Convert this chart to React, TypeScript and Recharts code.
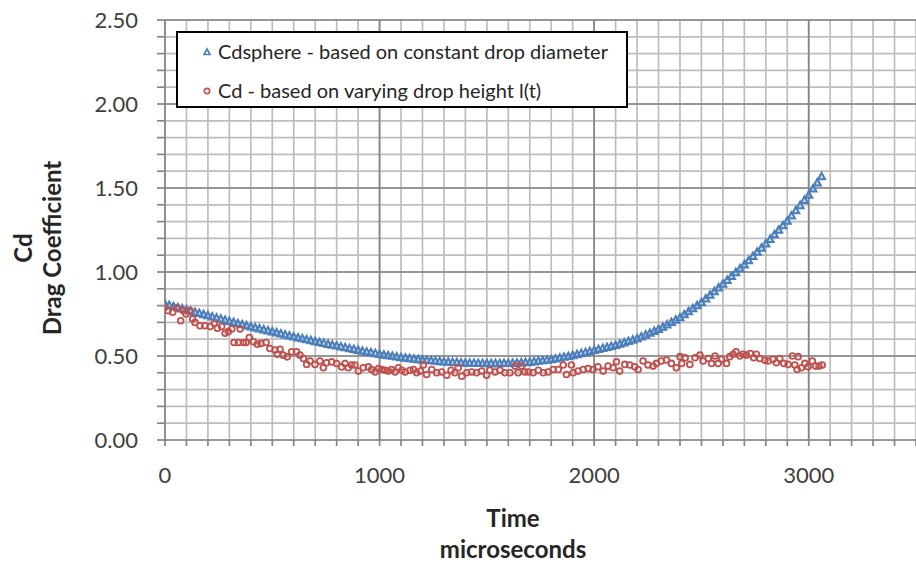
import React from 'react';
import { ScatterChart, Scatter, XAxis, YAxis, CartesianGrid, ReferenceLine, Legend } from 'recharts';

// Cdsphere – sampled every 20 µs starting at t = 0
const sphereStartTime = 0;
const sphereStep = 20;
const sphereCd = [
  0.810, 0.803, 0.796, 0.790, 0.783,
  0.776, 0.769, 0.762, 0.756, 0.749,
  0.742, 0.735, 0.728, 0.722, 0.715,
  0.708, 0.702, 0.695, 0.689, 0.682,
  0.676, 0.670, 0.664, 0.658, 0.652,
  0.646, 0.640, 0.634, 0.628, 0.622,
  0.616, 0.610, 0.605, 0.599, 0.594,
  0.588, 0.583, 0.578, 0.572, 0.567,
  0.562, 0.557, 0.552, 0.546, 0.541,
  0.536, 0.531, 0.526, 0.522, 0.517,
  0.512, 0.508, 0.504, 0.501, 0.497,
  0.493, 0.490, 0.487, 0.484, 0.481,
  0.478, 0.476, 0.474, 0.471, 0.469,
  0.467, 0.466, 0.464, 0.463, 0.461,
  0.460, 0.459, 0.459, 0.458, 0.458,
  0.457, 0.457, 0.457, 0.457, 0.458,
  0.458, 0.459, 0.460, 0.462, 0.463,
  0.465, 0.468, 0.471, 0.474, 0.477,
  0.480, 0.485, 0.490, 0.495, 0.500,
  0.505, 0.511, 0.517, 0.523, 0.529,
  0.535, 0.541, 0.547, 0.553, 0.559,
  0.565, 0.573, 0.581, 0.589, 0.597,
  0.605, 0.616, 0.627, 0.638, 0.649,
  0.660, 0.674, 0.688, 0.702, 0.716,
  0.730, 0.748, 0.766, 0.784, 0.802,
  0.820, 0.842, 0.864, 0.886, 0.908,
  0.930, 0.953, 0.976, 0.999, 1.022,
  1.045, 1.070, 1.095, 1.120, 1.145,
  1.170, 1.197, 1.224, 1.251, 1.278,
  1.305, 1.336, 1.367, 1.398, 1.429,
  1.460, 1.497, 1.533, 1.570,
];

// Cd based on varying drop height l(t)
const dropTime = [
  0, 14, 36, 54, 73, 85, 98, 116, 129, 140, 163, 186, 210, 230, 244, 264, 280, 295, 311, 322,
  342, 350, 365, 378, 393, 412, 430, 447, 471, 489, 513, 523, 536, 551, 570, 590, 613, 629, 645, 660,
  676, 699, 722, 738, 753, 777, 800, 823, 839, 854, 870, 885, 901, 924, 948, 963, 979, 995, 1010, 1025,
  1041, 1056, 1072, 1088, 1104, 1119, 1142, 1158, 1173, 1190, 1204, 1219, 1243, 1266, 1289, 1313, 1333, 1351, 1367, 1383,
  1406, 1429, 1452, 1476, 1499, 1514, 1538, 1561, 1584, 1608, 1631, 1646, 1662, 1677, 1693, 1716, 1740, 1763, 1786, 1809,
  1833, 1856, 1871, 1894, 1902, 1925, 1949, 1972, 1995, 2018, 2042, 2065, 2088, 2104, 2119, 2143, 2166, 2189, 2205, 2228,
  2251, 2275, 2290, 2313, 2337, 2360, 2383, 2400, 2408, 2424, 2446, 2470, 2493, 2508, 2532, 2547, 2563, 2578, 2594, 2617,
  2632, 2648, 2661, 2679, 2694, 2710, 2728, 2744, 2756, 2772, 2796, 2811, 2834, 2849, 2865, 2884, 2904, 2924, 2935, 2946,
  2951, 2966, 2982, 2997, 3017, 3032, 3048, 3063,
];
const dropCd = [
  0.79, 0.77, 0.76, 0.785, 0.71, 0.77, 0.75, 0.77, 0.72, 0.70, 0.68, 0.68, 0.675, 0.695, 0.665, 0.675, 0.635, 0.645, 0.66, 0.58,
  0.58, 0.66, 0.58, 0.58, 0.61, 0.585, 0.57, 0.575, 0.58, 0.545, 0.535, 0.51, 0.54, 0.505, 0.495, 0.525, 0.525, 0.505, 0.485, 0.45,
  0.47, 0.45, 0.47, 0.43, 0.46, 0.465, 0.455, 0.435, 0.455, 0.43, 0.446, 0.446, 0.41, 0.43, 0.435, 0.42, 0.405, 0.425, 0.42, 0.415,
  0.41, 0.42, 0.405, 0.43, 0.415, 0.405, 0.415, 0.42, 0.40, 0.41, 0.446, 0.39, 0.42, 0.40, 0.405, 0.385, 0.415, 0.40, 0.43, 0.38,
  0.40, 0.405, 0.40, 0.41, 0.385, 0.415, 0.405, 0.415, 0.40, 0.40, 0.44, 0.40, 0.44, 0.405, 0.405, 0.40, 0.415, 0.40, 0.405, 0.42,
  0.42, 0.446, 0.39, 0.446, 0.40, 0.41, 0.42, 0.425, 0.42, 0.436, 0.41, 0.44, 0.43, 0.466, 0.41, 0.45, 0.446, 0.436, 0.42, 0.47,
  0.446, 0.44, 0.456, 0.47, 0.476, 0.456, 0.43, 0.496, 0.456, 0.49, 0.45, 0.49, 0.505, 0.47, 0.485, 0.456, 0.50, 0.456, 0.48, 0.456,
  0.496, 0.51, 0.525, 0.50, 0.51, 0.505, 0.515, 0.49, 0.51, 0.485, 0.475, 0.47, 0.48, 0.46, 0.485, 0.456, 0.45, 0.50, 0.446, 0.42,
  0.496, 0.43, 0.456, 0.436, 0.47, 0.44, 0.44, 0.446,
];

const xTicks = [
  0, 100, 200, 300, 400, 500, 600, 700, 800, 900, 1000, 1100, 1200, 1300, 1400, 1500, 1600, 1700,
  1800, 1900, 2000, 2100, 2200, 2300, 2400, 2500, 2600, 2700, 2800, 2900, 3000, 3100, 3200, 3300, 3400, 3500,
];
const xMajor = [1000, 2000, 3000];
const yTicks = [
  0, 0.1, 0.2, 0.3, 0.4, 0.5, 0.6, 0.7, 0.8, 0.9, 1.0, 1.1, 1.2, 1.3, 1.4, 1.5, 1.6, 1.7, 1.8, 1.9,
  2.0, 2.1, 2.2, 2.3, 2.4, 2.5,
];
const yMajor = [0.5, 1.0, 1.5, 2.0, 2.5];

const seriesNames = ['Cdsphere - based on constant drop diameter', 'Cd - based on varying drop height l(t)'];
const xTitle = ['Time', 'microseconds'];
const yTitle = ['Cd', 'Drag Coefficient'];

const BLUE = '#4a7ebb';
const RED = '#c0504d';
const FONT = 'Lato, "Open Sans", sans-serif';

const sphereData = sphereCd.map((v, i) => ({ x: sphereStartTime + i * sphereStep, y: v }));
const dropData = dropTime.map((t, i) => ({ x: t, y: dropCd[i] }));

const Triangle = (props: any) => {
  const { cx, cy } = props;
  if (cx == null || cy == null) return null;
  const h = 6;
  const w = 7;
  return (
    <polygon
      points={`${cx},${cy - h / 2 - 0.5} ${cx - w / 2},${cy + h / 2} ${cx + w / 2},${cy + h / 2}`}
      fill="#9db8dc"
      fillOpacity={0.5}
      stroke={BLUE}
      strokeWidth={2}
    />
  );
};

const Ring = (props: any) => {
  const { cx, cy } = props;
  if (cx == null || cy == null) return null;
  return <circle cx={cx} cy={cy} r={2.9} fill="none" stroke={RED} strokeWidth={1.8} />;
};

const YTitle = () => (
  <g>
    <text transform="translate(32,248) rotate(-90)" textAnchor="middle" fontFamily={FONT} fontWeight="bold" fontSize={24} fill="#262626">
      {yTitle[0]}
    </text>
    <text transform="translate(61,248) rotate(-90)" textAnchor="middle" fontFamily={FONT} fontWeight="bold" fontSize={24} fill="#262626">
      {yTitle[1]}
    </text>
  </g>
);

const XTitle = () => (
  <g>
    <text x={513} y={527} textAnchor="middle" fontFamily={FONT} fontWeight="bold" fontSize={24} fill="#262626">
      {xTitle[0]}
    </text>
    <text x={513} y={558} textAnchor="middle" fontFamily={FONT} fontWeight="bold" fontSize={24} fill="#262626">
      {xTitle[1]}
    </text>
  </g>
);

const LegendBox = () => (
  <div
    style={{
      boxSizing: 'border-box',
      width: 452,
      height: 77,
      border: '2px solid #000',
      background: '#fff',
      position: 'relative',
      fontFamily: FONT,
      fontSize: 20,
      color: '#262626',
    }}
  >
    {seriesNames.map((name, i) => (
      <div
        key={name}
        style={{ position: 'absolute', left: 0, top: i === 0 ? 5 : 44, height: 26, width: 448, whiteSpace: 'nowrap' }}
      >
        <svg width={12} height={12} style={{ position: 'absolute', left: 23, top: 8 }}>
          {i === 0 ? (
            <polygon points="6,3 3,8.5 9,8.5" fill="none" stroke={BLUE} strokeWidth={1.6} />
          ) : (
            <circle cx={6} cy={6} r={2.7} fill="none" stroke={RED} strokeWidth={1.7} />
          )}
        </svg>
        <span style={{ position: 'absolute', left: 40, top: 0, lineHeight: '26px' }}>{name}</span>
      </div>
    ))}
  </div>
);

const fmtX = (v: number) => (v % 1000 === 0 ? String(v) : '');
const fmtY = (v: number) => (Math.round(v * 10) % 5 === 0 ? v.toFixed(2) : '');

export default function App() {
  return (
    <div style={{ position: 'absolute', left: 0, top: 0, width: 916, height: 562, background: '#fff' }}>
      <ScatterChart width={916} height={562} margin={{ top: 20, right: 0, bottom: 0, left: 0 }}>
        <CartesianGrid stroke="#bdbdbd" strokeWidth={1.7} />
        {xMajor.map((v) => (
          <ReferenceLine key={`xm${v}`} x={v} stroke="#858585" strokeWidth={1.7} />
        ))}
        {yMajor.map((v) => (
          <ReferenceLine key={`ym${v}`} y={v} stroke="#858585" strokeWidth={1.7} />
        ))}
        <XAxis
          type="number"
          dataKey="x"
          domain={[0, 3500]}
          ticks={xTicks}
          interval={0}
          tickFormatter={fmtX}
          height={122}
          tickSize={6}
          tickMargin={21}
          stroke="#868686"
          strokeWidth={1.7}
          tick={{ fontFamily: FONT, fontSize: 22, fill: '#404040' }}
          allowDataOverflow
          label={<XTitle />}
        />
        <YAxis
          type="number"
          dataKey="y"
          domain={[0, 2.5]}
          ticks={yTicks}
          interval={0}
          tickFormatter={fmtY}
          width={165}
          tickSize={8}
          tickMargin={19}
          stroke="#868686"
          strokeWidth={1.7}
          tick={{ fontFamily: FONT, fontSize: 22, fill: '#404040' }}
          allowDataOverflow
          label={<YTitle />}
        />
        <Legend
          layout="vertical"
          align="center"
          verticalAlign="middle"
          wrapperStyle={{ left: 176, top: 31, width: 452, height: 77 }}
          content={() => <LegendBox />}
        />
        <Scatter name={seriesNames[0]} data={sphereData} shape={<Triangle />} isAnimationActive={false} />
        <Scatter name={seriesNames[1]} data={dropData} shape={<Ring />} isAnimationActive={false} />
      </ScatterChart>
    </div>
  );
}
